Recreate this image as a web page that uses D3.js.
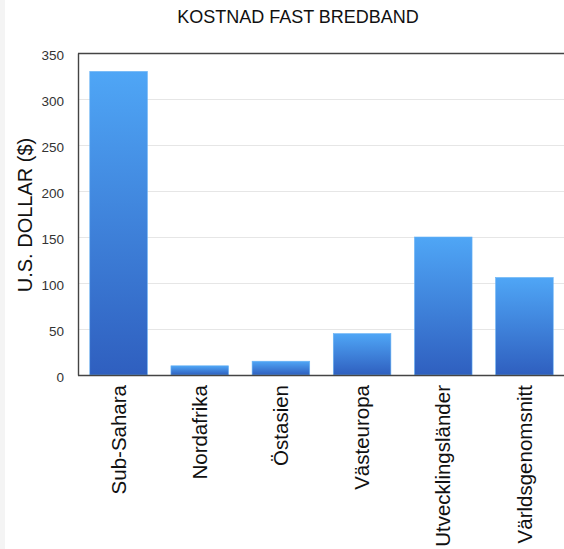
<!DOCTYPE html>
<html>
<head>
<meta charset="utf-8">
<script src="https://cdn.jsdelivr.net/npm/d3@7"></script>
<style>
  body { margin: 0; background: #fff; }
  svg { display: block; font-family: "Liberation Sans", Arial, sans-serif; }
</style>
</head>
<body>
<svg id="chart"></svg>
<script>
// chart data
const categories = ["Sub-Sahara", "Nordafrika", "Östasien", "Västeuropa", "Utvecklingsländer", "Världsgenomsnitt"];
const costs = [330, 10, 15, 45, 150, 106];
const yTicks = [0, 50, 100, 150, 200, 250, 300, 350];

const width = 564, height = 549;
const margin = { top: 53, right: 0, bottom: 174, left: 78 };

const svg = d3.select("#chart").attr("width", width).attr("height", height);

// light strip on the left edge
svg.append("rect").attr("x", 0).attr("y", 0).attr("width", 5).attr("height", height).attr("fill", "#f4f4f4");

const defs = svg.append("defs");
const grad = defs.append("linearGradient").attr("id", "barGrad")
  .attr("x1", 0).attr("y1", 0).attr("x2", 0).attr("y2", 1);
grad.append("stop").attr("offset", "0%").attr("stop-color", "#4fa6f6");
grad.append("stop").attr("offset", "100%").attr("stop-color", "#2f5fbf");

const x = d3.scaleBand()
  .domain(categories)
  .range([margin.left, width - margin.right + 1])
  .paddingInner(0.29)
  .paddingOuter(0.145);

const y = d3.scaleLinear()
  .domain([0, 350])
  .range([height - margin.bottom, margin.top]);

// gridlines
svg.append("g")
  .selectAll("line")
  .data(yTicks.filter(d => d > 0 && d < 350))
  .join("line")
  .attr("x1", margin.left)
  .attr("x2", width)
  .attr("y1", d => Math.round(y(d)) + 0.5)
  .attr("y2", d => Math.round(y(d)) + 0.5)
  .attr("stroke", "#e6e6e6");

// top frame line
svg.append("line")
  .attr("x1", margin.left).attr("x2", width)
  .attr("y1", y(350) + 0.5).attr("y2", y(350) + 0.5)
  .attr("stroke", "#444").attr("stroke-width", 1.4);

// bars
svg.append("g")
  .selectAll("rect")
  .data(costs)
  .join("rect")
  .attr("x", (d, i) => x(categories[i]))
  .attr("y", d => y(d))
  .attr("width", x.bandwidth())
  .attr("height", d => y(0) - y(d))
  .attr("fill", "url(#barGrad)")
  .attr("stroke", "#6ab4f5")
  .attr("stroke-width", 0.6);

// y axis
const yAxis = d3.axisLeft(y).tickValues(yTicks).tickSize(0).tickPadding(14);
const yG = svg.append("g")
  .attr("transform", `translate(${margin.left},0)`)
  .call(yAxis);
yG.select(".domain").attr("stroke", "#444").attr("stroke-width", 1.4);
yG.selectAll("text").attr("font-size", 13.5).attr("fill", "#333")
  .attr("font-family", "Liberation Sans, Arial, sans-serif")
  .attr("dy", "0.45em");

// x axis
const xAxis = d3.axisBottom(x).tickSize(0).tickPadding(0);
const xG = svg.append("g")
  .attr("transform", `translate(0,${y(0)})`)
  .call(xAxis);
xG.select(".domain").attr("stroke", "#444").attr("stroke-width", 1.4)
  .attr("d", `M${margin.left},0.5H${width}`);
xG.selectAll("text")
  .attr("font-size", 20.5)
  .attr("fill", "#111")
  .attr("font-family", "Liberation Sans, Arial, sans-serif")
  .attr("transform", "translate(0,10) rotate(-90)")
  .attr("dy", "0.35em")
  .attr("y", 0)
  .style("text-anchor", "end");

// title
svg.append("text")
  .attr("x", 298)
  .attr("y", 23)
  .attr("text-anchor", "middle")
  .attr("font-size", 18)
  .attr("fill", "#111")
  .text("KOSTNAD FAST BREDBAND");

// y label
svg.append("text")
  .attr("transform", `translate(32,215) rotate(-90)`)
  .attr("text-anchor", "middle")
  .attr("font-size", 20)
  .attr("fill", "#111")
  .text("U.S. DOLLAR ($)");
</script>
</body>
</html>
